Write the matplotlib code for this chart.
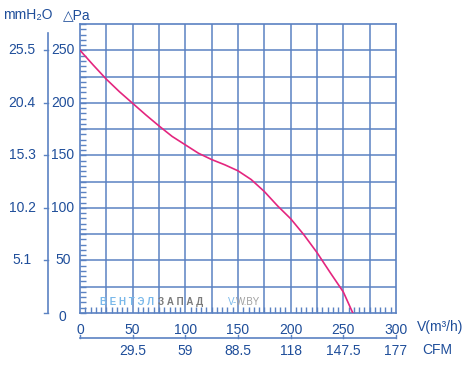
import matplotlib
matplotlib.use("Agg")
import matplotlib.pyplot as plt
import numpy as np
from matplotlib.transforms import blended_transform_factory

plt.rcParams['font.family'] = ['Liberation Sans', 'DejaVu Sans']

# fan curve: airflow (m3/h) vs static pressure (Pa)
flow = [0, 12.5, 25, 37.5, 50, 62.5, 75, 87.5, 100, 112.5, 125, 137.5,
        150, 162.5, 175, 187.5, 200, 212.5, 225, 237.5, 250, 259]
pressure = [250, 236, 222.5, 210.5, 199.5, 188.5, 178, 168, 160, 152, 146, 141,
            135.3, 127, 115.6, 102, 89.7, 74.5, 57.5, 38.5, 20, 0]

flow_ticks = [0, 50, 100, 150, 200, 250, 300]
cfm_labels = ["29.5", "59", "88.5", "118", "147.5", "177"]
pa_ticks = [50, 100, 150, 200, 250]
mmh2o_labels = ["5.1", "10.2", "15.3", "20.4", "25.5"]

W, H = 469, 365
text_col = '#1f4e9a'
grid_col = '#5b82c2'
curve_col = '#e4267f'

fig = plt.figure(figsize=(W / 100, H / 100), dpi=100)
ax = fig.add_axes([80 / W, 1 - 313 / H, 316 / W, 289 / H])

def fx(px):
    return px / W

def fy(py):
    return 1 - py / H

ax.set_xlim(0, 300)
ax.set_ylim(0, 275)

for v in np.arange(25, 300, 25):
    ax.axvline(v, color=grid_col, lw=1.1, zorder=1)
for v in np.arange(25, 275, 25):
    ax.axhline(v, color=grid_col, lw=1.1, zorder=1)

for s in ax.spines.values():
    s.set_color(grid_col)
    s.set_linewidth(1.2)

ax.plot(flow, pressure, color=curve_col, lw=1.2, zorder=3)

# ticks
ax.set_xticks(flow_ticks)
ax.set_xticklabels([str(t) for t in flow_ticks])
ax.set_xticks(np.arange(0, 301, 5), minor=True)
ax.set_yticks(np.arange(0, 276, 5), minor=True)
ax.set_yticks([])
ax.tick_params(axis='x', which='major', length=0, pad=7, labelsize=10,
               labelcolor=text_col)
ax.tick_params(axis='both', which='minor', direction='in', length=4.5,
               width=1.0, color=grid_col)

# left Pa / mmH2O scales
tr = blended_transform_factory(fig.transFigure, ax.transData)
for v, lab in zip(pa_ticks, mmh2o_labels):
    ax.text(fx(63), v, str(v), transform=tr, ha='center', va='center',
            fontsize=10, color=text_col)
    ax.text(fx(22), v, lab, transform=tr, ha='center', va='center',
            fontsize=10, color=text_col)
    ax.plot([fx(44), fx(47.5)], [v, v], transform=tr, color=grid_col,
            lw=1.0, clip_on=False)
ax.plot([fx(44), fx(47.5)], [0, 0], transform=tr, color=grid_col, lw=1.0,
        clip_on=False)
ax.plot([fx(47.5), fx(47.5)], [0, 266], transform=tr, color=grid_col,
        lw=1.2, clip_on=False)
fig.text(fx(62), fy(317), "0", ha='center', va='center', fontsize=10,
         color=text_col)

# bottom CFM scale
trx = blended_transform_factory(ax.transData, fig.transFigure)
ax.plot([0, 300], [fy(338), fy(338)], transform=trx, color=grid_col, lw=1.2,
        clip_on=False)
for v in flow_ticks:
    ax.plot([v, v], [fy(338), fy(335)], transform=trx, color=grid_col,
            lw=1.0, clip_on=False)
for v, lab in zip(flow_ticks[1:], cfm_labels):
    ax.text(v, fy(351), lab, transform=trx, ha='center', va='center',
            fontsize=10, color=text_col)

fig.text(fx(440), fy(327), "V(m³/h)", ha='center', va='center', fontsize=10,
         color=text_col)
fig.text(fx(437), fy(350), "CFM", ha='center', va='center', fontsize=10,
         color=text_col)

# header
fig.text(fx(3), fy(15), "mmH₂O", ha='left', va='center', fontsize=10,
         color=text_col)
fig.text(fx(63), fy(15), "△Pa", ha='left', va='center', fontsize=10,
         color=text_col)

# watermark
fig.text(fx(100), fy(302), "В Е Н Т Э Л", ha='left', va='center', fontsize=7,
         color='#79b8ea', fontweight='bold')
fig.text(fx(158), fy(302), "З А П А Д", ha='left', va='center', fontsize=7,
         color='#7a7a7a', fontweight='bold')
fig.text(fx(228), fy(302), "V-", ha='left', va='center', fontsize=7,
         color='#79b8ea')
fig.text(fx(236), fy(302), "W.BY", ha='left', va='center', fontsize=7,
         color='#a0a0a0')

fig.savefig("out.png", dpi=100)
